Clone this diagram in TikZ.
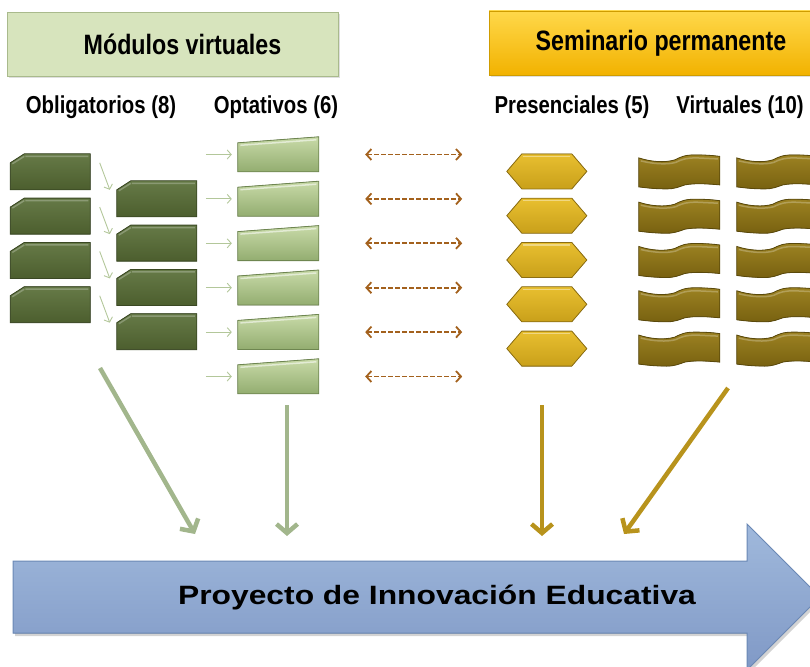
\documentclass[tikz,border=0pt]{standalone}
\usepackage{fontspec}
\setmainfont{Liberation Sans}
\newfontfamily\narrowfont{Liberation Sans}[FakeStretch=0.83]
\newfontfamily\widefont{Liberation Sans}[FakeStretch=1.2]
\usetikzlibrary{arrows.meta,shadows}

\definecolor{mvfill}{HTML}{D7E4BD}
\definecolor{mvline}{HTML}{A9BA8C}
\definecolor{sptop}{HTML}{FFD84A}
\definecolor{spbot}{HTML}{F2B200}
\definecolor{spline}{HTML}{CF9C00}
\definecolor{obltop}{HTML}{667A47}
\definecolor{oblbot}{HTML}{4C5E2E}
\definecolor{oblline}{HTML}{3A4823}
\definecolor{optop}{HTML}{C8DAA8}
\definecolor{opbot}{HTML}{93AD70}
\definecolor{opline}{HTML}{6E8650}
\definecolor{hextop}{HTML}{E8BF30}
\definecolor{hexbot}{HTML}{C9A01A}
\definecolor{hexline}{HTML}{8C6E12}
\definecolor{wavtop}{HTML}{9C8222}
\definecolor{wavbot}{HTML}{786110}
\definecolor{wavline}{HTML}{5A490A}
\definecolor{thingreen}{HTML}{B3C79A}
\definecolor{dashbrown}{HTML}{A3611D}
\definecolor{biggreen}{HTML}{A2B68C}
\definecolor{biggold}{HTML}{B8931C}
\definecolor{pietop}{HTML}{A0B9DC}
\definecolor{piebot}{HTML}{8099C6}
\definecolor{pieline}{HTML}{6A88B5}

\tikzset{
  headbox/.style={minimum height=64pt, inner sep=0pt,
    font=\narrowfont\bfseries\fontsize{28}{30}\selectfont,
    drop shadow={opacity=0.25,shadow xshift=1.5pt,shadow yshift=-2.5pt}},
  sublabel/.style={inner sep=0pt, font=\narrowfont\bfseries\fontsize{24.5}{26}\selectfont},
  slot/.style args={#1x#2}{minimum width=#1pt, minimum height=#2pt, inner sep=0pt},
  % green module with cut corner
  pics/oblshape/.style={code={
      \filldraw[draw=oblline, line width=0.8pt, top color=obltop, bottom color=oblbot]
        (14,0) -- (80,0) -- (80,36) -- (0,36) -- (0,9) -- cycle;
      \draw[white, opacity=0.25, line width=1.5pt] (15,2.5) -- (78,2.5) (2,10) -- (14,2.5);}},
  pics/optshape/.style={code={
      \filldraw[draw=opline, line width=0.8pt, top color=optop, bottom color=opbot]
        (0,6) -- (81,0) -- (81,35) -- (0,35) -- cycle;
      \draw[white, opacity=0.55, line width=1.5pt] (2.5,8.5) -- (78.5,3);}},
  pics/hexshape/.style={code={
      \filldraw[draw=hexline, line width=0.8pt, top color=hextop, bottom color=hexbot]
        (0,17.5) -- (15,0) -- (65,0) -- (80,17.5) -- (65,35) -- (15,35) -- cycle;
      \draw[white, opacity=0.4, line width=1.5pt] (16.5,2.5) -- (63.5,2.5);}},
  pics/wavshape/.style={code={
      \filldraw[draw=wavline, line width=0.8pt, top color=wavtop, bottom color=wavbot]
        (0,4) .. controls (12,8) and (26,9) .. (36,6) .. controls (42,3) and (46,1) .. (56,1)
        .. controls (66,1) and (74,1.5) .. (81,2.5) -- (81,31)
        .. controls (70,30) and (56,29) .. (46,31) .. controls (40,33) and (36,35) .. (28,35)
        .. controls (16,35) and (8,34) .. (0,33) -- cycle;
      \draw[white, opacity=0.25, line width=1.5pt]
        (2,7) .. controls (14,10) and (28,11) .. (37,8.5) .. controls (44,5) and (48,4) .. (58,4) -- (79,5);}},
  thinarrow/.style={draw=thingreen, line width=0.9pt, -{Straight Barb[length=4pt,width=9pt]}},
  dasharrow/.style={draw=dashbrown, line width=1.8pt, dash pattern=on 4.5pt off 2.5pt,
    {Straight Barb[length=5pt,width=11pt]}-{Straight Barb[length=5pt,width=11pt]}},
  bigarrow/.style={draw=#1, line width=4.5pt, -{Straight Barb[length=9pt,width=21pt]}}
}

\begin{document}
\begin{tikzpicture}[x=1pt,y=-1pt]
  \def\dy{44.3} % vertical pitch of the module rows
  \useasboundingbox (0,0) rectangle (810,666);

  % headers
  \node[headbox, minimum width=331pt, draw=mvline, fill=mvfill] (mv) at (172.5,44) {\hspace*{20pt}Módulos virtuales};
  \node[headbox, minimum width=344pt, draw=spline, top color=sptop, bottom color=spbot] (sp) at (661,43) {Seminario permanente};
  \node[sublabel] (lob) at (101,107) {Obligatorios (8)};
  \node[sublabel] (lop) at (276,107) {Optativos (6)};
  \node[sublabel] (lpr) at (572,107) {Presenciales (5)};
  \node[sublabel] (lvi) at (740,107) {Virtuales (10)};

  % obligatorios
  \foreach \i in {1,...,4} {
    \node[slot=80x36] (ob\i) at (50.5, 127.7+\dy*\i) {};
    \pic at (ob\i.north west) {oblshape};
    \node[slot=80x36] (obr\i) at (157, 154.7+\dy*\i) {};
    \pic at (obr\i.north west) {oblshape};
    \draw[thinarrow] ([shift={(9pt,-9pt)}]ob\i.north east) -- ([shift={(-7pt,-9pt)}]obr\i.north west);
  }
  % optativos
  \foreach \i in {1,...,6} {
    \node[slot=81x35] (op\i) at (278.5, 110.1+44.4*\i) {};
    \pic at (op\i.north west) {optshape};
    \draw[thinarrow] ([xshift=-32pt]op\i.west) -- ([xshift=-6pt]op\i.west);
    \draw[dasharrow] ([xshift=46pt]op\i.east) -- ([xshift=143pt]op\i.east);
  }
  % presenciales y virtuales
  \foreach \i in {1,...,5} {
    \node[slot=80x35] (pr\i) at (547, 127.3+\dy*\i) {};
    \pic at (pr\i.north west) {hexshape};
    \node[slot=81x35] (vl\i) at (679.5, 127.3+\dy*\i) {};
    \pic at (vl\i.north west) {wavshape};
    \node[slot=81x35] (vr\i) at (777.5, 127.3+\dy*\i) {};
    \pic at (vr\i.north west) {wavshape};
  }

  % project arrow
  \fill[top color=pietop, bottom color=piebot, draw=pieline, line width=1pt,
    drop shadow={opacity=0.35,shadow xshift=2pt,shadow yshift=-3pt}]
    (13,561) -- (747,561) -- (747,524) -- (820,597) -- (747,670) -- (747,633) -- (13,633) -- cycle;
  \node[font=\widefont\bfseries\fontsize{26.5}{28}\selectfont] (pie) at (437,598) {Proyecto de Innovación Educativa};

  % arrows into the project
  \coordinate (g1s) at (100,368);
  \coordinate (g1e) at (195,534);
  \coordinate (g2s) at (287,405);
  \coordinate (g2e) at (287,536);
  \coordinate (y1s) at (542,405);
  \coordinate (y1e) at (542,536);
  \coordinate (y2s) at (728,388);
  \coordinate (y2e) at (624,534);
  \draw[bigarrow=biggreen] (g1s) -- (g1e);
  \draw[bigarrow=biggreen] (g2s) -- (g2e);
  \draw[bigarrow=biggold] (y1s) -- (y1e);
  \draw[bigarrow=biggold] (y2s) -- (y2e);
\end{tikzpicture}
\end{document}
